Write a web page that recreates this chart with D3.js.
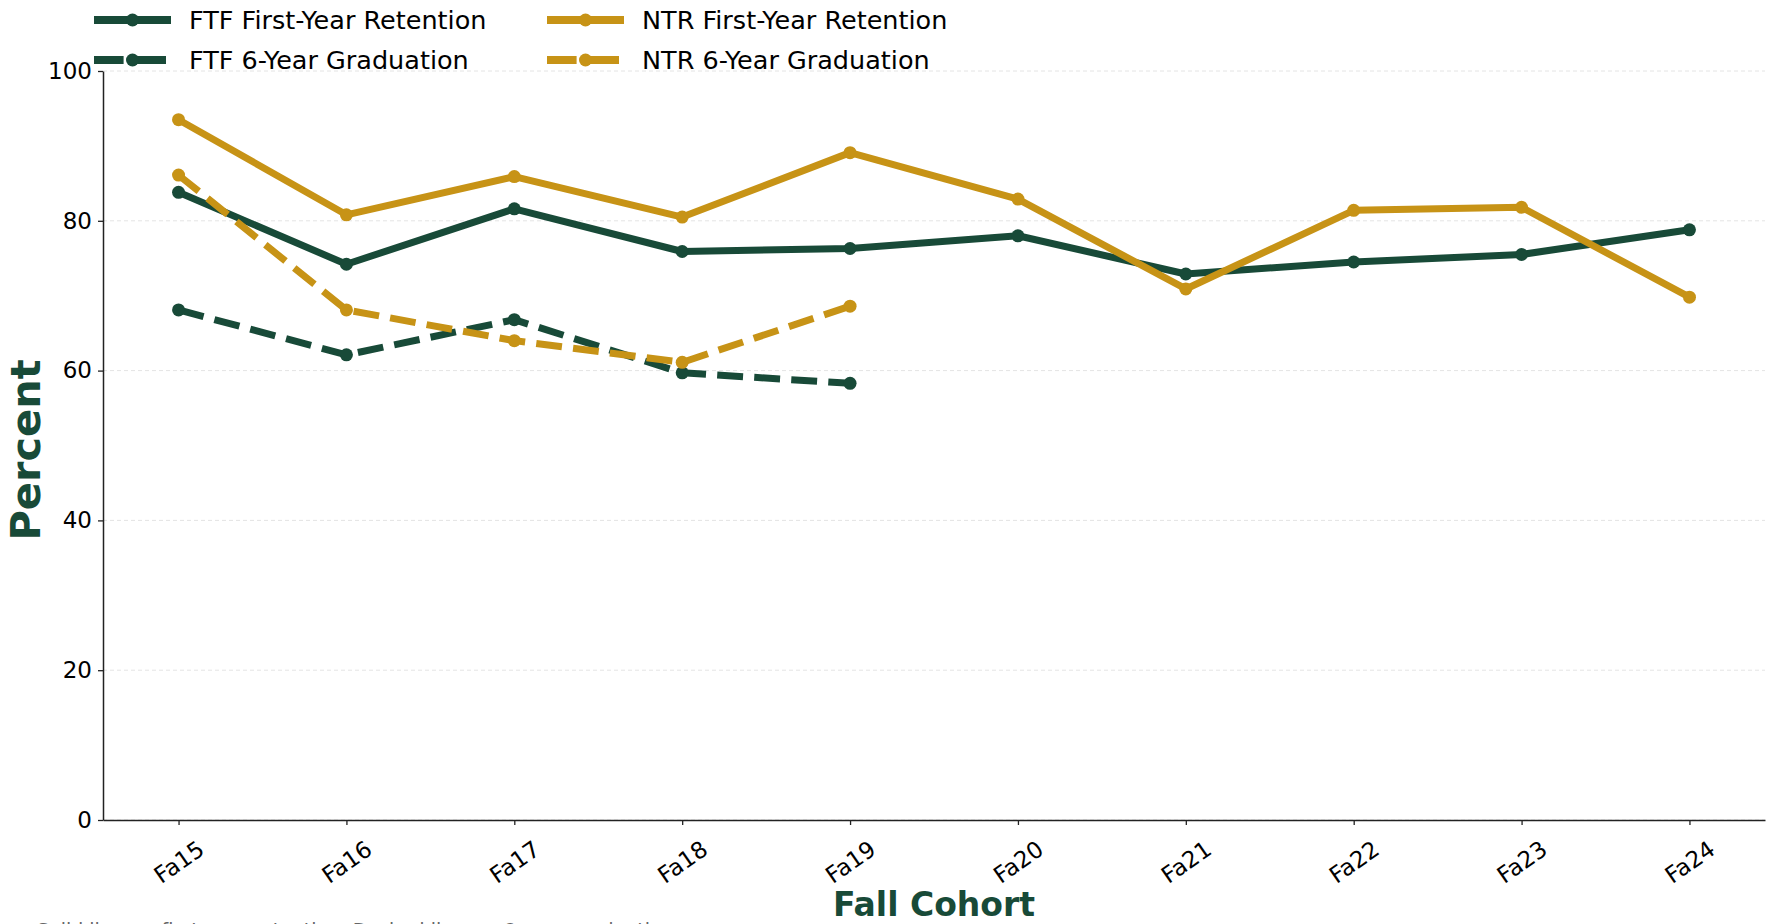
<!DOCTYPE html>
<html>
<head>
<meta charset="utf-8">
<script src="https://cdn.jsdelivr.net/npm/d3@7"></script>
<style>
  body { margin: 0; background: #fff; }
  svg { display: block; font-family: "DejaVu Sans", sans-serif; }
</style>
</head>
<body>
<svg id="chart" width="1769" height="924"></svg>
<script>
// cohort labels and series (percent)
const cohorts = ["Fa15", "Fa16", "Fa17", "Fa18", "Fa19", "Fa20", "Fa21", "Fa22", "Fa23", "Fa24"];
const ftfRetention = [83.8, 74.2, 81.6, 75.9, 76.3, 78.0, 72.9, 74.5, 75.5, 78.8];
const ftfGraduation = [68.1, 62.1, 66.8, 59.7, 58.3];
const ntrRetention = [93.5, 80.8, 85.9, 80.5, 89.1, 82.9, 70.9, 81.4, 81.8, 69.8];
const ntrGraduation = [86.1, 68.1, 64.0, 61.1, 68.6];
const yTicks = [0, 20, 40, 60, 80, 100];

const green = "#184a38";
const gold = "#c79316";

const series = [
  { name: "FTF First-Year Retention", values: ftfRetention, color: green, dashed: false },
  { name: "FTF 6-Year Graduation", values: ftfGraduation, color: green, dashed: true },
  { name: "NTR First-Year Retention", values: ntrRetention, color: gold, dashed: false },
  { name: "NTR 6-Year Graduation", values: ntrGraduation, color: gold, dashed: true }
];

const svg = d3.select("#chart");
const plotLeft = 103, plotRight = 1765, plotTop = 71, plotBottom = 820;

// matplotlib-style 5% margin on the category positions
const x = d3.scaleLinear().domain([-0.45, cohorts.length - 1 + 0.45]).range([plotLeft, plotRight]);
const y = d3.scaleLinear().domain([0, 100]).range([plotBottom, plotTop]);

// grid
svg.append("g")
  .selectAll("line.grid")
  .data(yTicks)
  .enter()
  .append("line")
  .attr("x1", plotLeft)
  .attr("x2", plotRight)
  .attr("y1", d => y(d))
  .attr("y2", d => y(d))
  .attr("stroke", "#e4e4e4")
  .attr("stroke-width", 1)
  .attr("stroke-dasharray", "4,3");

// axes
const yAxis = svg.append("g")
  .attr("transform", "translate(" + plotLeft + ",0)")
  .call(d3.axisLeft(y).tickValues(yTicks).tickSize(5).tickSizeOuter(0).tickPadding(6));

const xAxis = svg.append("g")
  .attr("transform", "translate(0," + plotBottom + ")")
  .call(d3.axisBottom(x)
    .tickValues(d3.range(cohorts.length))
    .tickFormat(i => cohorts[i])
    .tickSize(5)
    .tickSizeOuter(0));

[yAxis, xAxis].forEach(a => {
  a.select(".domain").attr("stroke", "#222").attr("stroke-width", 1.5);
  a.selectAll(".tick line").attr("stroke", "#222").attr("stroke-width", 1.3);
  a.selectAll("text")
    .attr("fill", "#000")
    .style("font-family", "DejaVu Sans")
    .style("font-size", "23px");
});

xAxis.selectAll(".tick text")
  .attr("y", 0)
  .attr("dy", null)
  .attr("text-anchor", "middle")
  .attr("dominant-baseline", "central")
  .attr("transform", "translate(0,42) rotate(-35)");

// axis titles
svg.append("text")
  .attr("transform", "translate(40,450) rotate(-90)")
  .attr("text-anchor", "middle")
  .attr("fill", green)
  .style("font-weight", "bold")
  .style("font-size", "41.5px")
  .text("Percent");

svg.append("text")
  .attr("x", 934)
  .attr("y", 916)
  .attr("text-anchor", "middle")
  .attr("fill", green)
  .style("font-weight", "bold")
  .style("font-size", "33px")
  .text("Fall Cohort");

// footnote (mostly below the visible area, as in the original)
svg.append("text")
  .attr("x", 37)
  .attr("y", 937)
  .attr("fill", "#666")
  .style("font-size", "19px")
  .text("Solid lines = first-year retention;  Dashed lines = 6-year graduation");

// lines
const line = d3.line()
  .x((d, i) => x(i))
  .y(d => y(d));

const lw = 7;
series.forEach(s => {
  const g = svg.append("g");
  g.append("path")
    .datum(s.values)
    .attr("d", line)
    .attr("fill", "none")
    .attr("stroke", s.color)
    .attr("stroke-width", lw)
    .attr("stroke-linejoin", "round")
    .attr("stroke-dasharray", s.dashed ? (3.7 * lw) + "," + (1.6 * lw) : null);
  g.selectAll("circle")
    .data(s.values)
    .enter()
    .append("circle")
    .attr("cx", (d, i) => x(i))
    .attr("cy", d => y(d))
    .attr("r", 6.5)
    .attr("fill", s.color);
});

// legend, two columns filled top to bottom
const legendLw = 8;
const legend = svg.append("g")
  .selectAll("g.item")
  .data(series)
  .enter()
  .append("g")
  .attr("transform", (d, i) => "translate(" + (i < 2 ? 94 : 547) + "," + (i % 2 === 0 ? 20 : 60) + ")");

legend.append("line")
  .attr("x1", 0)
  .attr("x2", 77)
  .attr("y1", 0)
  .attr("y2", 0)
  .attr("stroke", d => d.color)
  .attr("stroke-width", legendLw)
  .attr("stroke-dasharray", d => d.dashed ? (3.7 * legendLw) + "," + (1.6 * legendLw) : null);

legend.append("circle")
  .attr("cx", 38.5)
  .attr("cy", 0)
  .attr("r", 6.5)
  .attr("fill", d => d.color);

legend.append("text")
  .attr("x", 95)
  .attr("y", 0)
  .attr("dominant-baseline", "central")
  .attr("fill", "#000")
  .style("font-size", "25.5px")
  .text(d => d.name);
</script>
</body>
</html>
